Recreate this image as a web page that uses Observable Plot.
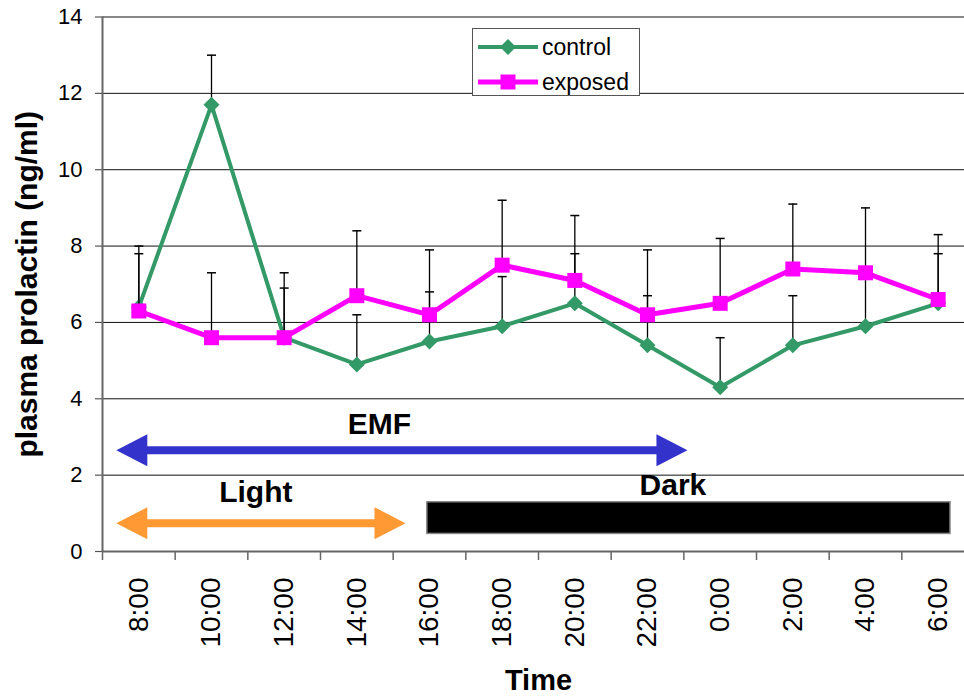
<!DOCTYPE html>
<html><head><meta charset="utf-8">
<script src="https://cdn.jsdelivr.net/npm/d3@7"></script>
<script src="https://cdn.jsdelivr.net/npm/@observablehq/plot@0.6"></script>
<style>
body{margin:0;background:#fff;}
#wrap{position:relative;width:964px;height:696px;overflow:hidden;font-family:"Liberation Sans",Arial,sans-serif;}
#legend{position:absolute;left:472px;top:28px;width:166px;height:66px;border:1px solid #555;background:#fff;font-size:23px;color:#000;}
#legend .row{position:absolute;left:5px;height:30px;display:flex;align-items:center;}
#legend svg{display:block;margin-right:4px;}
</style></head><body><div id="wrap"></div>
<script>
// ---- data ----
const times = ["8:00","10:00","12:00","14:00","16:00","18:00","20:00","22:00","0:00","2:00","4:00","6:00"];
const control = [6.4, 11.7, 5.6, 4.9, 5.5, 5.9, 6.5, 5.4, 4.3, 5.4, 5.9, 6.5];
const controlUpper = [7.8, 13.0, 6.9, 6.2, 6.8, 7.2, 7.8, 6.7, 5.6, 6.7, 7.3, 7.8];
const exposed = [6.3, 5.6, 5.6, 6.7, 6.2, 7.5, 7.1, 6.2, 6.5, 7.4, 7.3, 6.6];
const exposedUpper = [8.0, 7.3, 7.3, 8.4, 7.9, 9.2, 8.8, 7.9, 8.2, 9.1, 9.0, 8.3];
const yTicks = [0, 2, 4, 6, 8, 10, 12, 14];
const seriesNames = ["control", "exposed"];
// annotations (in chart units: x = category index, y = ng/ml)
const emfArrow = [{from: 0.19, to: 8.05, y: 2.65}];
const lightArrow = [{from: 0.19, to: 4.17, y: 0.74}];
const darkBar = [{from: 4.47, to: 11.67, y1: 0.46, y2: 1.29}];
const labels = [
  {text: "EMF", x: 3.81, y: 3.33},
  {text: "Light", x: 2.11, y: 1.55},
  {text: "Dark", x: 7.85, y: 1.73}
];

// ---- build ----
const colors = {control: "#339966", exposed: "#FF00FF"};
const rows = (name, vals, up) => vals.map((v, i) => ({series: name, x: i + 0.5, y: v, up: up[i]}));
const cRows = rows("control", control, controlUpper);
const eRows = rows("exposed", exposed, exposedUpper);
const boundaries = d3.range(0, times.length + 1);

const diamond = {draw(c){c.moveTo(0,-8);c.lineTo(8,0);c.lineTo(0,8);c.lineTo(-8,0);c.closePath();}};
const square = {draw(c){c.rect(-7.5,-7.5,15,15);}};
const cap = {draw(c){c.moveTo(-4.5,0);c.lineTo(4.5,0);}};
const headR = {draw(c){c.moveTo(0,0);c.lineTo(-31,-16);c.lineTo(-31,16);c.closePath();}};
const headL = {draw(c){c.moveTo(0,0);c.lineTo(31,-16);c.lineTo(31,16);c.closePath();}};

function seriesMarks(data, color, sym, sw) {
  return [
    Plot.line(data, {x: "x", y: "y", stroke: color, strokeWidth: sw}),
    Plot.ruleX(data, {x: "x", y1: "y", y2: "up", stroke: "#000", strokeWidth: 1.3}),
    Plot.dot(data, {x: "x", y: "up", symbol: cap, stroke: "#000", fill: "none", strokeWidth: 1.5}),
    Plot.dot(data, {x: "x", y: "y", symbol: sym, fill: color, stroke: "none"})
  ];
}
function arrowMarks(data, color) {
  return [
    Plot.ruleY(data, {y: "y", x1: "from", x2: "to", stroke: color, strokeWidth: 8, insetLeft: 25, insetRight: 25}),
    Plot.dot(data, {x: "from", y: "y", symbol: headL, fill: color, stroke: "none"}),
    Plot.dot(data, {x: "to", y: "y", symbol: headR, fill: color, stroke: "none"})
  ];
}

const chart = Plot.plot({
  width: 964, height: 696,
  marginLeft: 102, marginRight: -10, marginTop: 16.5, marginBottom: 145,
  style: {fontFamily: "'Liberation Sans', Arial, sans-serif", background: "#fff", color: "#000"},
  x: {domain: [0, times.length], axis: null},
  y: {domain: [0, 14], axis: null},
  marks: [
    Plot.ruleY(yTicks.filter(d => d > 0), {stroke: "#111", strokeWidth: 1}),
    Plot.axisY({ticks: yTicks, tickSize: 7, tickFormat: () => "", stroke: "#555", strokeWidth: 1.2}),
    Plot.text(yTicks, {x: 0, y: d => d, text: d => String(d), textAnchor: "end", dx: -20, fontSize: 22}),
    Plot.axisX({ticks: boundaries, tickSize: 9, tickFormat: () => "", stroke: "#666", strokeWidth: 1.5}),
    Plot.ruleX([0], {stroke: "#666", strokeWidth: 2}),
    Plot.ruleY([0], {stroke: "#666", strokeWidth: 2}),
    Plot.text(times, {x: (d, i) => i + 0.5, y: 0, text: d => d, rotate: -90, textAnchor: "end", dy: 26, fontSize: 28}),
    Plot.text(["Time"], {x: times.length / 2, y: 0, text: d => d, dy: 129, fontSize: 29, fontWeight: "bold"}),
    Plot.text(["plasma prolactin (ng/ml)"], {x: 0, y: 7, text: d => d, rotate: -90, dx: -75, fontSize: 30, fontWeight: "bold"}),
    ...arrowMarks(emfArrow, "#3333CC"),
    ...arrowMarks(lightArrow, "#FF9933"),
    Plot.rect(darkBar, {x1: "from", x2: "to", y1: "y1", y2: "y2", fill: "#000", stroke: "#888", strokeWidth: 1.5}),
    Plot.text(labels, {x: "x", y: "y", text: "text", fontSize: 30, fontWeight: "bold"}),
    ...seriesMarks(cRows, colors.control, diamond, 4),
    ...seriesMarks(eRows, colors.exposed, square, 5)
  ]
});

const wrap = document.getElementById("wrap");
wrap.appendChild(chart);

// legend
const legend = document.createElement("div");
legend.id = "legend";
const legendSym = {control: '<path d="M30,3L38,11L30,19L22,11Z"/>', exposed: '<rect x="22.5" y="3.5" width="15" height="15"/>'};
seriesNames.forEach((name, i) => {
  const row = document.createElement("div");
  row.className = "row";
  row.style.top = (i === 0 ? 3 : 38) + "px";
  const c = colors[name];
  row.innerHTML = `<svg width="60" height="22"><line x1="0" x2="60" y1="11" y2="11" stroke="${c}" stroke-width="${i ? 5 : 4}"/><g fill="${c}">${legendSym[name]}</g></svg><span>${name}</span>`;
  legend.appendChild(row);
});
wrap.appendChild(legend);
</script>
</body></html>
